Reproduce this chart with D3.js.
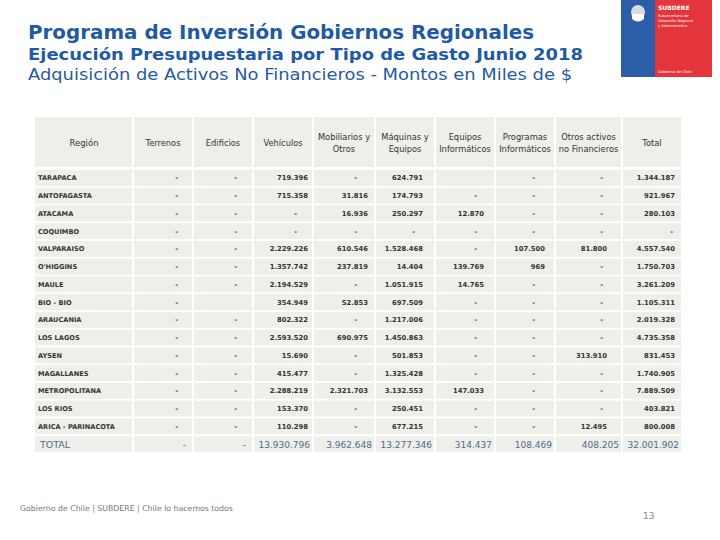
<!DOCTYPE html>
<html><head><meta charset="utf-8">
<script src="https://cdn.jsdelivr.net/npm/d3@7"></script>
<style>body{margin:0;background:#fff}svg{display:block}</style>
</head><body>
<svg id="c" width="720" height="540"></svg>
<script>
// ---- DATA ----
const regions = ["TARAPACA","ANTOFAGASTA","ATACAMA","COQUIMBO","VALPARAISO","O'HIGGINS","MAULE","BIO - BIO","ARAUCANIA","LOS LAGOS","AYSEN","MAGALLANES","METROPOLITANA","LOS RIOS","ARICA - PARINACOTA"];
const columns = ["Terrenos","Edificios","Vehículos","Mobiliarios y Otros","Máquinas y Equipos","Equipos Informáticos","Programas Informáticos","Otros activos no Financieros","Total"];
// 0 = "-" ; null = empty cell
const terrenos     = [0,0,0,0,0,0,0,0,0,0,0,0,0,0,0];
const edificios    = [0,0,0,0,0,0,0,null,0,0,0,0,0,0,0];
const vehiculos    = [719396,715358,0,0,2229226,1357742,2194529,354949,802322,2593520,15690,415477,2288219,153370,110298];
const mobiliarios  = [0,31816,16936,0,610546,237819,0,52853,0,690975,0,0,2321703,0,0];
const maquinas     = [624791,174793,250297,0,1528468,14404,1051915,697509,1217006,1450863,501853,1325428,3132553,250451,677215];
const equiposInf   = [null,0,12870,0,0,139769,14765,0,0,0,0,0,147033,0,0];
const programasInf = [0,0,0,0,107500,969,0,0,0,0,0,0,0,0,0];
const otrosActivos = [0,0,0,0,81800,0,0,0,0,0,313910,0,0,0,12495];
const totalRegion  = [1344187,921967,280103,0,4557540,1750703,3261209,1105311,2019328,4735358,831453,1740905,7889509,403821,800008];
const totals       = [0,0,13930796,3962648,13277346,314437,108469,408205,32001902];
const series = [terrenos,edificios,vehiculos,mobiliarios,maquinas,equiposInf,programasInf,otrosActivos,totalRegion];

const titles = ["Programa de Inversión Gobiernos Regionales","Ejecución Presupuestaria por Tipo de Gasto Junio 2018","Adquisición de Activos No Financieros - Montos en Miles de $"];
const footer = "Gobierno de Chile | SUBDERE | Chile lo hacemos todos";
const pageNum = "13";

// ---- LAYOUT ----
const svg = d3.select("#c");
const blue = "#1f5ba4";
const cellBg = "#eeefe9";
const fmt = d3.formatLocale({decimal:",",thousands:".",grouping:[3],currency:["$",""]}).format(",d");

const colEdges = [35,133,193,253,313,375,435,495,555,622,682];
const valuePad = [5,5,5,7,12,11,10,15,7];
const dashPad  = [15,16,16,18,20,18,20,19,9];
const headerLines = [["Terrenos"],["Edificios"],["Vehículos"],["Mobiliarios y","Otros"],["Máquinas y","Equipos"],["Equipos","Informáticos"],["Programas","Informáticos"],["Otros activos","no Financieros"],["Total"]];

const rowKeys = regions.concat(["TOTAL"]);
const y = d3.scaleBand().domain(rowKeys).range([169, 453]).paddingInner(0.1).paddingOuter(0.05);
const colIdx = d3.range(colEdges.length-1);

// titles
const tl = [{s:20,w:"bold",b:39,L:506},{s:16.5,w:"bold",b:60,L:555},{s:16,w:"normal",b:80,L:544}];
titles.forEach((t,i)=>{
  svg.append("text").attr("x",28).attr("y",tl[i].b).attr("fill",blue)
    .attr("font-family","DejaVu Sans, Verdana, sans-serif").attr("font-size",tl[i].s)
    .attr("font-weight",tl[i].w).attr("textLength",tl[i].L).attr("lengthAdjust","spacingAndGlyphs").text(t);
});

// logo
const logo = svg.append("g");
logo.append("rect").attr("x",621).attr("y",0).attr("width",91).attr("height",77).attr("fill","#e3353b");
logo.append("rect").attr("x",621).attr("y",0).attr("width",34).attr("height",77).attr("fill","#2b5ea7");
logo.append("circle").attr("cx",638).attr("cy",12).attr("r",7).attr("fill","#d8dbe4");
logo.append("path").attr("d","M632,14 h12 v5 q-6,5 -12,0 z").attr("fill","#ffffff");
logo.append("text").attr("x",658).attr("y",10).attr("fill","#fff").attr("font-family","DejaVu Sans, sans-serif").attr("font-size",6).attr("font-weight","bold").text("SUBDERE");
["Subsecretaría de","Desarrollo Regional","y Administrativo"].forEach((t,i)=>{
  logo.append("text").attr("x",658).attr("y",17+i*5).attr("fill","#fff").attr("font-family","DejaVu Sans, sans-serif").attr("font-size",3.6).text(t);
});
logo.append("text").attr("x",658).attr("y",73).attr("fill","#fff").attr("font-family","DejaVu Sans, sans-serif").attr("font-size",3.8).text("Gobierno de Chile");

// header cells
const hdr = svg.append("g");
hdr.selectAll("rect").data(colIdx).join("rect")
  .attr("x",i=>colEdges[i]+(i?1:0)).attr("y",117)
  .attr("width",i=>colEdges[i+1]-colEdges[i]-(i?1:0)-1).attr("height",50).attr("fill",cellBg);
hdr.append("text").attr("x",(colEdges[0]+colEdges[1])/2).attr("y",146).attr("text-anchor","middle")
  .attr("font-family","DejaVu Sans, sans-serif").attr("font-size",8.5).attr("fill","#333").text("Región");
columns.forEach((c,ci)=>{
  const lines = headerLines[ci];
  const cx = (colEdges[ci+1]+colEdges[ci+2])/2;
  lines.forEach((ln,li)=>{
    hdr.append("text").attr("x",cx).attr("y",lines.length===1?146:140+li*12).attr("text-anchor","middle")
      .attr("font-family","DejaVu Sans, sans-serif").attr("font-size",8.3).attr("fill","#333").text(ln);
  });
});

// body cells
const body = svg.append("g");
rowKeys.forEach((r)=>{
  body.selectAll(null).data(colIdx).join("rect")
    .attr("x",i=>colEdges[i]+(i?1:0)).attr("y",y(r))
    .attr("width",i=>colEdges[i+1]-colEdges[i]-(i?1:0)-1).attr("height",y.bandwidth()).attr("fill",cellBg);
});
// region labels
body.selectAll("text.reg").data(regions).join("text").attr("class","reg")
  .attr("x",38).attr("y",d=>y(d)+y.bandwidth()/2+2.5)
  .attr("font-family","DejaVu Sans, sans-serif").attr("font-size",6.6).attr("font-weight","bold").attr("fill","#333").text(d=>d);
// values
series.forEach((arr,ci)=>{
  const right = colEdges[ci+2];
  body.selectAll(null).data(arr.map((v,ri)=>({v,r:regions[ri]})).filter(d=>d.v!==null)).join("text")
    .attr("x",d=>right-(d.v===0?dashPad[ci]:valuePad[ci]))
    .attr("y",d=>y(d.r)+y.bandwidth()/2+2.5).attr("text-anchor","end")
    .attr("font-family","DejaVu Sans, sans-serif").attr("font-size",6.8).attr("font-weight","bold").attr("fill","#333")
    .text(d=>d.v===0?"-":fmt(d.v));
});
// total row
const tc = "#4d6b91";
body.append("text").attr("x",40).attr("y",y("TOTAL")+y.bandwidth()/2+3.5)
  .attr("font-family","DejaVu Sans, sans-serif").attr("font-size",9.5).attr("fill",tc).text("TOTAL");
body.selectAll("text.tot").data(totals).join("text").attr("class","tot")
  .attr("x",(d,ci)=>colEdges[ci+2]-(d===0?7:3)).attr("y",y("TOTAL")+y.bandwidth()/2+3.5).attr("text-anchor","end")
  .attr("font-family","DejaVu Sans, sans-serif").attr("font-size",9).attr("fill",tc).text(d=>d===0?"-":fmt(d));

// footer
svg.append("text").attr("x",20).attr("y",511).attr("font-family","DejaVu Sans, sans-serif").attr("font-size",7.8).attr("fill","#777").text(footer);
svg.append("text").attr("x",643).attr("y",519).attr("font-family","DejaVu Sans, sans-serif").attr("font-size",9).attr("fill","#888").text(pageNum);
</script>
</body></html>
